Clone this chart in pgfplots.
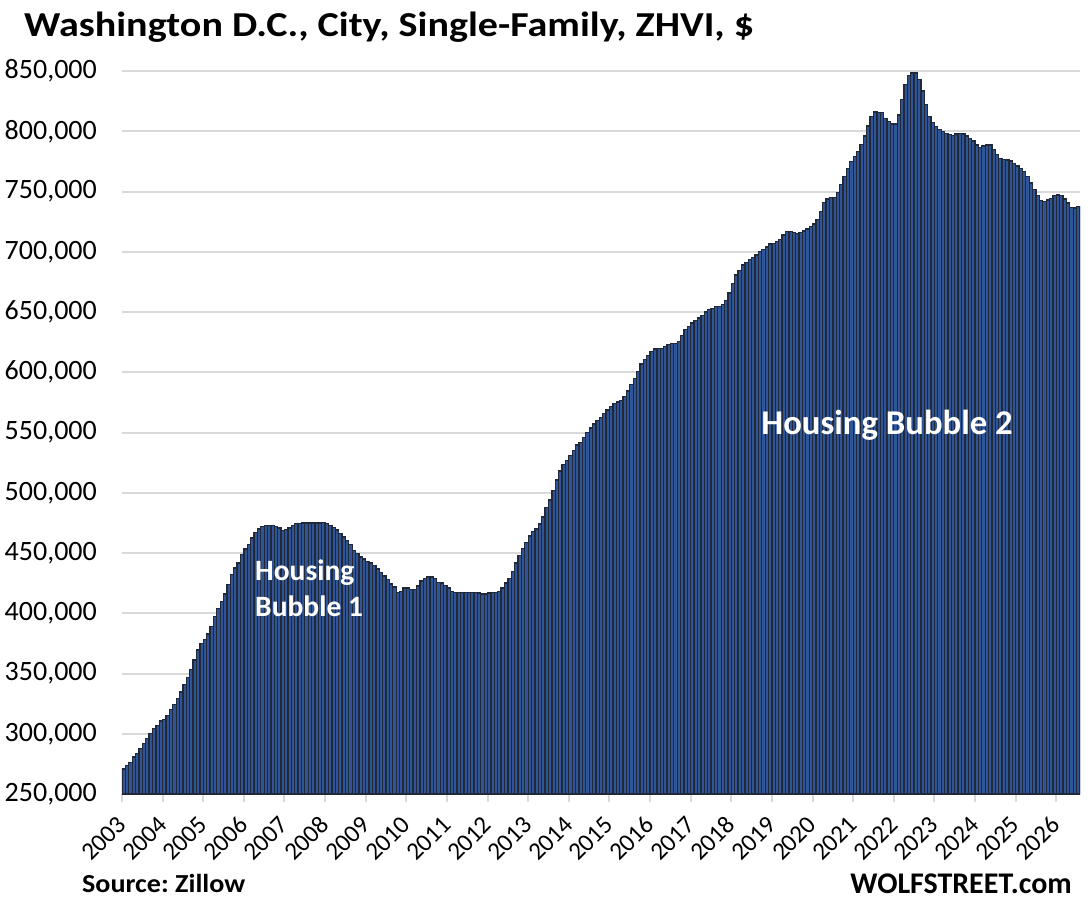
\documentclass[border=0pt]{standalone}
\usepackage{pgfplots}
\pgfplotsset{compat=1.18}
\usepackage{pgfplotstable}
\usepackage{fontspec}
\setmainfont{Carlito}
\frenchspacing
\definecolor{barblue}{RGB}{47,85,151}
\definecolor{bardark}{RGB}{33,41,56}
\definecolor{gridgray}{RGB}{217,217,217}
\pgfplotstableread[header=false]{
270800
273600
276400
280600
283900
288000
292200
295800
300000
304200
307000
310600
311700
315300
320000
324400
329200
334700
341100
346700
353600
361100
369400
375000
378300
382800
388900
397200
404200
409700
416100
423600
431900
437500
441700
448600
453300
456900
462500
467200
470000
472200
472800
473000
472800
472200
470800
468900
469400
470800
472800
474200
474700
475000
475000
475000
475000
475000
475000
475600
474400
472800
471000
469000
466000
463300
460500
457000
452000
449400
446700
445000
443000
441700
439400
436700
434000
430800
428200
424400
421800
417300
418000
421000
421000
420000
420000
422500
426700
429000
430000
430000
428600
425800
425000
423000
421000
418000
417500
417500
417500
417500
417500
417500
417500
416700
416000
416000
416700
417500
417500
418000
421000
425000
429000
434700
441700
448000
454000
459000
464000
468000
470000
474000
480000
487500
494000
502000
510500
518000
523600
527000
531000
535000
539700
541500
545800
549800
553800
557000
560200
562600
566000
568600
571300
574000
575300
576800
580000
584400
590000
595000
600800
606800
610400
613700
617300
619200
620000
620000
621200
622800
623600
623600
625800
630600
635300
638000
640800
643000
645000
647000
650000
652000
652800
654700
654700
656400
659700
665800
673600
680600
684700
688900
690800
693600
695300
697200
700000
702000
704000
706400
707000
708300
710300
713900
716700
716700
716200
715000
715800
717200
718800
720800
723000
726700
733300
740800
743900
745300
745300
749200
755800
762200
769000
774800
778800
783200
788800
796000
804300
812500
816000
815600
815300
810600
808000
806000
806000
813400
826300
838700
846400
848300
848300
842800
833500
822000
812500
807000
803700
801500
799600
798200
797400
796600
797700
798200
797700
796000
794000
792000
788600
786600
787700
788600
788600
785000
781000
777500
776700
776200
775300
773400
771200
769300
766500
762400
757000
751400
746700
742600
741700
743000
744400
746700
747200
746700
743700
740400
736800
736200
737600
}\zhvi
\begin{document}
\begin{tikzpicture}
\path[use as bounding box] (0pt,0pt) rectangle (1088pt,-900pt);
\begin{axis}[
  at={(122pt,-794pt)}, anchor=south west,
  scale only axis, width=958pt, height=723pt,
  xmin=2003, xmax=2026.58333, ymin=250000, ymax=850000,
  axis x line*=bottom, axis y line*=left,
  x axis line style={draw=gridgray, line width=2pt},
  y axis line style={draw=none},
  ytick={250000,300000,...,850000},
  scaled y ticks=false, scaled x ticks=false,
  yticklabel={\pgfmathprintnumber[fixed,1000 sep={,}]{\tick}},
  xtick={2003,2004,...,2026},
  xticklabel={\pgfmathprintnumber[fixed,precision=0,1000 sep={}]{\tick}},
  /pgf/number format/assume math mode=true,
  ymajorgrids, major grid style={draw=gridgray, line width=2pt},
  ytick style={draw=none},
  x tick style={draw=gridgray, line width=2pt},
  tick align=outside, major tick length=8pt,
  yticklabel style={font=\fontsize{28}{30}\selectfont, text=black, anchor=east, inner sep=0pt, xshift=-17pt},
  xticklabel style={font=\fontsize{25}{28}\selectfont, text=black, xshift=5.5pt, yshift=-24pt, rotate=45, anchor=base east, inner sep=0pt},
  clip=true,
]
\addplot[ybar, bar width=0.0833333, bar shift=0pt, fill=barblue, draw=bardark, line width=1.3pt]
  table[x expr={2003+(\coordindex+0.5)/12}, y index=0] {\zhvi};
\end{axis}
\node[anchor=base west, inner sep=0pt, font=\bfseries\fontsize{35}{40}\selectfont] at (24pt,-36pt) {\scalebox{1.145}[1]{Washington D.C., City, Single-Family, ZHVI, \$}};
\node[anchor=base west, inner sep=0pt, font=\bfseries\fontsize{26}{30}\selectfont] at (82pt,-892pt) {\scalebox{1.08}[1]{Source: Zillow}};
\node[anchor=base east, inner sep=0pt, font=\bfseries\fontsize{30}{34}\selectfont] at (1072pt,-893pt) {WOLFSTREET.com};
\node[anchor=base, inner sep=0pt, text=white, font=\bfseries\fontsize{34.7}{40}\selectfont] at (887pt,-434pt) {Housing Bubble 2};
\node[anchor=base west, inner sep=0pt, text=white, font=\bfseries\fontsize{29.5}{34}\selectfont] at (255pt,-580pt) {Housing};
\node[anchor=base west, inner sep=0pt, text=white, font=\bfseries\fontsize{29.5}{34}\selectfont] at (255pt,-616pt) {Bubble 1};
\end{tikzpicture}
\end{document}
